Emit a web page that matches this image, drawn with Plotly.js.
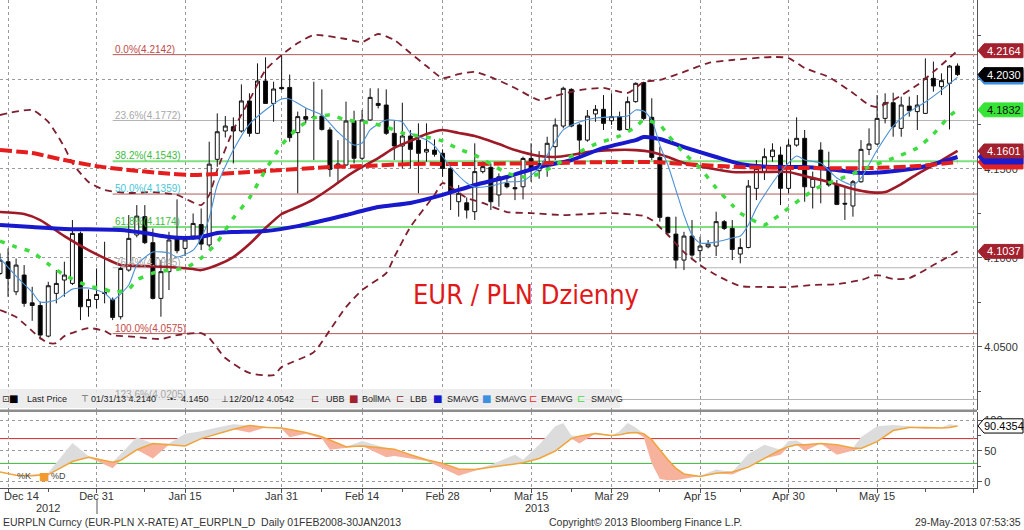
<!DOCTYPE html>
<html><head><meta charset="utf-8">
<script src="https://cdn.plot.ly/plotly-3.0.1.min.js"></script>
<style>html,body{margin:0;padding:0;background:#fff;}#chart{width:1024px;height:530px;}</style>
</head><body><div id="chart"></div>
<script>
// ---------- price data (daily candles) ----------
const dates = ['2012-12-13','2012-12-14','2012-12-17','2012-12-18','2012-12-19','2012-12-20','2012-12-21','2012-12-24','2012-12-25','2012-12-26','2012-12-27','2012-12-28','2012-12-31',
'2013-01-01','2013-01-02','2013-01-03','2013-01-04','2013-01-07','2013-01-08','2013-01-09','2013-01-10','2013-01-11','2013-01-14','2013-01-15','2013-01-16','2013-01-17','2013-01-18',
'2013-01-21','2013-01-22','2013-01-23','2013-01-24','2013-01-25','2013-01-28','2013-01-29','2013-01-30','2013-01-31','2013-02-01','2013-02-04','2013-02-05','2013-02-06','2013-02-07','2013-02-08',
'2013-02-11','2013-02-12','2013-02-13','2013-02-14','2013-02-15','2013-02-18','2013-02-19','2013-02-20','2013-02-21','2013-02-22','2013-02-25','2013-02-26','2013-02-27','2013-02-28','2013-03-01',
'2013-03-04','2013-03-05','2013-03-06','2013-03-07','2013-03-08','2013-03-11','2013-03-12','2013-03-13','2013-03-14','2013-03-15','2013-03-18','2013-03-19','2013-03-20','2013-03-21','2013-03-22',
'2013-03-25','2013-03-26','2013-03-27','2013-03-28','2013-03-29','2013-04-01','2013-04-02','2013-04-03','2013-04-04','2013-04-05','2013-04-08','2013-04-09','2013-04-10','2013-04-11','2013-04-12',
'2013-04-15','2013-04-16','2013-04-17','2013-04-18','2013-04-19','2013-04-22','2013-04-23','2013-04-24','2013-04-25','2013-04-26','2013-04-29','2013-04-30','2013-05-01','2013-05-02','2013-05-03',
'2013-05-06','2013-05-07','2013-05-08','2013-05-09','2013-05-10','2013-05-13','2013-05-14','2013-05-15','2013-05-16','2013-05-17','2013-05-20','2013-05-21','2013-05-22','2013-05-23','2013-05-24',
'2013-05-27','2013-05-28','2013-05-29'];
const open = [4.0913,4.0979,4.0810,4.0904,4.0748,4.0733,4.0561,4.0801,4.0876,4.0857,4.1138,4.0726,4.0767,
4.0806,4.0767,4.0670,4.0932,4.1129,4.1232,4.1086,4.0773,4.0923,4.1110,4.1054,4.1123,4.1188,4.1073,
4.1554,4.1713,4.1737,4.1713,4.1882,4.1700,4.1994,4.1868,4.1958,4.1958,4.1704,4.1794,4.1792,4.1797,4.1719,
4.1513,4.1522,4.1769,4.1560,4.1775,4.1868,4.1859,4.1700,4.1629,4.1685,4.1662,4.1595,4.1606,4.1588,4.1503,
4.1316,4.1310,4.1260,4.1485,4.1509,4.1354,4.1419,4.1395,4.1400,4.1559,4.1490,4.1522,4.1625,4.1741,4.1947,
4.1747,4.1662,4.1809,4.1835,4.1771,4.1794,4.1722,4.1878,4.1985,4.1790,4.1565,4.1228,4.1134,4.0988,4.1123,
4.1041,4.1063,4.1067,4.1204,4.1166,4.1022,4.1059,4.1391,4.1485,4.1569,4.1578,4.1391,4.1634,4.1672,4.1397,
4.1606,4.1503,4.1410,4.1307,4.1292,4.1428,4.1610,4.1640,4.1784,4.1872,4.1728,4.1853,4.1822,4.1812,4.2009,
4.1962,4.1981,4.2078];
const high = [4.1026,4.1054,4.0997,4.0960,4.0838,4.0754,4.0866,4.0932,4.0979,4.1213,4.1148,4.0823,4.0941,
4.1091,4.0778,4.0951,4.1241,4.1297,4.1297,4.1166,4.0988,4.1147,4.1329,4.1123,4.1250,4.1278,4.1653,
4.1812,4.1797,4.1790,4.1975,4.1925,4.2093,4.2127,4.1990,4.2140,4.2030,4.1822,4.1840,4.1990,4.1947,4.1734,
4.1662,4.1878,4.1827,4.1831,4.1953,4.1953,4.1947,4.1771,4.1872,4.1719,4.1756,4.1756,4.1666,4.1610,4.1513,
4.1410,4.1340,4.1644,4.1541,4.1531,4.1475,4.1456,4.1456,4.1569,4.1644,4.1600,4.1681,4.1784,4.1962,4.1953,
4.1756,4.1831,4.1859,4.1915,4.1925,4.1822,4.1906,4.1986,4.1990,4.1897,4.1625,4.1232,4.1232,4.1147,4.1213,
4.1119,4.1101,4.1260,4.1213,4.1213,4.1110,4.1438,4.1550,4.1616,4.1644,4.1625,4.1666,4.1790,4.1719,4.1485,
4.1650,4.1597,4.1438,4.1400,4.1438,4.1662,4.1728,4.1915,4.1925,4.1928,4.1906,4.1906,4.1915,4.2121,4.2103,
4.2037,4.2084,4.2093];
const low = [4.0904,4.0782,4.0791,4.0726,4.0647,4.0542,4.0554,4.0745,4.0782,4.0848,4.0651,4.0670,4.0717,
4.0745,4.0651,4.0655,4.0923,4.1116,4.1078,4.0767,4.0670,4.0820,4.1026,4.1011,4.1101,4.1044,4.1059,
4.1512,4.1677,4.1531,4.1704,4.1681,4.1696,4.1865,4.1765,4.1943,4.1653,4.1363,4.1756,4.1550,4.1715,4.1456,
4.1415,4.1516,4.1531,4.1550,4.1771,4.1840,4.1691,4.1550,4.1503,4.1503,4.1363,4.1541,4.1569,4.1456,4.1269,
4.1232,4.1222,4.1213,4.1475,4.1269,4.1288,4.1391,4.1325,4.1329,4.1428,4.1445,4.1456,4.1550,4.1728,4.1734,
4.1569,4.1653,4.1765,4.1719,4.1747,4.1715,4.1719,4.1872,4.1775,4.1550,4.1204,4.1134,4.0941,4.0932,4.1007,
4.0979,4.1054,4.1011,4.1157,4.0988,4.0970,4.1054,4.1325,4.1438,4.1541,4.1297,4.1363,4.1625,4.1316,4.1278,
4.1307,4.1400,4.1297,4.1213,4.1232,4.1423,4.1578,4.1634,4.1756,4.1681,4.1681,4.1794,4.1719,4.1809,4.1934,
4.1915,4.1722,4.2022];
const close = [4.0988,4.0885,4.0960,4.0745,4.0733,4.0567,4.0844,4.0857,4.0904,4.1138,4.0726,4.0767,4.0795,
4.0801,4.0666,4.0941,4.1110,4.1235,4.1086,4.0773,4.0923,4.1101,4.1041,4.1101,4.1194,4.1078,4.1527,
4.1709,4.1741,4.1713,4.1882,4.1700,4.1994,4.1868,4.1949,4.1951,4.1676,4.1794,4.1779,4.1789,4.1722,4.1498,
4.1528,4.1769,4.1560,4.1775,4.1902,4.1857,4.1700,4.1629,4.1685,4.1610,4.1588,4.1610,4.1582,4.1503,4.1372,
4.1363,4.1269,4.1485,4.1513,4.1316,4.1456,4.1400,4.1389,4.1559,4.1494,4.1530,4.1644,4.1747,4.1953,4.1741,
4.1662,4.1797,4.1835,4.1756,4.1794,4.1719,4.1878,4.1981,4.1784,4.1565,4.1228,4.1142,4.0988,4.1123,4.1016,
4.1067,4.1078,4.1204,4.1166,4.1048,4.1059,4.1404,4.1503,4.1569,4.1606,4.1391,4.1634,4.1672,4.1400,4.1447,
4.1503,4.1410,4.1301,4.1303,4.1428,4.1610,4.1640,4.1784,4.1872,4.1737,4.1859,4.1827,4.1859,4.2009,4.1966,
4.1996,4.2078,4.2030];

// ---------- indicators ----------
const ubbDates = ['2012-12-13','2012-12-19','2012-12-21','2012-12-25','2012-12-26','2012-12-28','2013-01-01','2013-01-04','2013-01-09','2013-01-14','2013-01-17','2013-01-18','2013-01-21','2013-01-23','2013-01-25','2013-01-29','2013-01-31','2013-02-04','2013-02-06','2013-02-12','2013-02-14','2013-02-18','2013-02-20','2013-02-22','2013-02-26','2013-02-28','2013-03-04','2013-03-06','2013-03-08','2013-03-13','2013-03-18','2013-03-20','2013-03-25','2013-03-28','2013-04-02','2013-04-04','2013-04-08','2013-04-11','2013-04-16','2013-04-19','2013-04-26','2013-04-30','2013-05-02','2013-05-07','2013-05-10','2013-05-14','2013-05-15','2013-05-17','2013-05-22','2013-05-24','2013-05-29'];
const ubbValues = [4.1803,4.1831,4.1764,4.1623,4.1533,4.1427,4.1382,4.1365,4.1370,4.1354,4.1297,4.1354,4.1494,4.1719,4.1887,4.2056,4.2140,4.2207,4.2252,4.2230,4.2213,4.2258,4.2224,4.2151,4.2078,4.2011,4.2033,4.2045,4.2016,4.1955,4.1887,4.1910,4.1943,4.1955,4.1927,4.1988,4.2000,4.2045,4.2095,4.2112,4.2129,4.2123,4.2067,4.2016,4.1927,4.1859,4.1848,4.1887,4.1971,4.2045,4.2164];

const lbbDates = ['2012-12-13','2012-12-17','2012-12-20','2012-12-21','2012-12-24','2012-12-25','2012-12-28','2013-01-01','2013-01-02','2013-01-07','2013-01-10','2013-01-14','2013-01-17','2013-01-18','2013-01-22','2013-01-25','2013-01-30','2013-01-31','2013-02-06','2013-02-08','2013-02-12','2013-02-14','2013-02-19','2013-02-20','2013-02-22','2013-02-27','2013-02-28','2013-03-05','2013-03-07','2013-03-12','2013-03-15','2013-03-21','2013-03-26','2013-03-29','2013-04-04','2013-04-05','2013-04-09','2013-04-11','2013-04-15','2013-04-17','2013-04-22','2013-04-25','2013-04-30','2013-05-03','2013-05-08','2013-05-13','2013-05-15','2013-05-17','2013-05-21','2013-05-24','2013-05-29'];
const lbbValues = [4.0707,4.0668,4.0550,4.0522,4.0522,4.0561,4.0606,4.0589,4.0567,4.0556,4.0545,4.0567,4.0578,4.0550,4.0438,4.0354,4.0342,4.0387,4.0471,4.0595,4.0724,4.0820,4.0915,4.1005,4.1174,4.1354,4.1421,4.1337,4.1309,4.1258,4.1252,4.1241,4.1247,4.1252,4.1236,4.1213,4.1129,4.1033,4.0960,4.0904,4.0842,4.0837,4.0837,4.0848,4.0853,4.0876,4.0904,4.0882,4.0887,4.0960,4.1037];

const bollDates = ['2012-12-13','2012-12-18','2012-12-20','2012-12-25','2012-12-28','2013-01-01','2013-01-03','2013-01-08','2013-01-11','2013-01-16','2013-01-17','2013-01-21','2013-01-23','2013-01-25','2013-01-29','2013-01-31','2013-02-04','2013-02-06','2013-02-08','2013-02-12','2013-02-14','2013-02-18','2013-02-20','2013-02-22','2013-02-26','2013-02-28','2013-03-04','2013-03-06','2013-03-11','2013-03-13','2013-03-18','2013-03-20','2013-03-22','2013-03-26','2013-03-29','2013-04-03','2013-04-05','2013-04-09','2013-04-11','2013-04-16','2013-04-19','2013-04-25','2013-04-30','2013-05-02','2013-05-07','2013-05-10','2013-05-14','2013-05-16','2013-05-20','2013-05-22','2013-05-24','2013-05-29'];
const bollValues = [4.1258,4.1247,4.1213,4.1123,4.1044,4.0999,4.0960,4.0955,4.0949,4.0938,4.0932,4.0960,4.1005,4.1078,4.1168,4.1247,4.1286,4.1331,4.1390,4.1455,4.1511,4.1561,4.1618,4.1657,4.1696,4.1719,4.1702,4.1685,4.1640,4.1606,4.1573,4.1567,4.1578,4.1595,4.1606,4.1606,4.1595,4.1567,4.1533,4.1505,4.1483,4.1483,4.1483,4.1460,4.1427,4.1387,4.1370,4.1370,4.1415,4.1471,4.1522,4.1601];

const smaLongDates = ['2012-12-13','2012-12-19','2012-12-25','2013-01-03','2013-01-08','2013-01-11','2013-01-15','2013-01-17','2013-01-21','2013-01-23','2013-01-29','2013-02-04','2013-02-08','2013-02-12','2013-02-18','2013-02-22','2013-02-28','2013-03-06','2013-03-12','2013-03-18','2013-03-22','2013-03-28','2013-04-03','2013-04-04','2013-04-08','2013-04-11','2013-04-17','2013-04-22','2013-04-26','2013-05-02','2013-05-08','2013-05-13','2013-05-16','2013-05-22','2013-05-27','2013-05-29'];
const smaLongValues = [4.1185,4.1174,4.1163,4.1157,4.1140,4.1118,4.1112,4.1118,4.1140,4.1146,4.1151,4.1179,4.1219,4.1241,4.1286,4.1309,4.1354,4.1410,4.1455,4.1511,4.1550,4.1618,4.1662,4.1679,4.1668,4.1623,4.1567,4.1528,4.1511,4.1511,4.1494,4.1477,4.1483,4.1505,4.1539,4.1567];

const emaDates = ['2012-12-13','2012-12-19','2012-12-25','2012-12-31','2013-01-04','2013-01-10','2013-01-16','2013-01-21','2013-01-25','2013-01-31','2013-02-08','2013-02-14','2013-02-22','2013-03-06','2013-03-19','2013-03-29','2013-04-05','2013-04-15','2013-04-22','2013-05-02','2013-05-14','2013-05-22','2013-05-29'];
const emaValues = [4.1606,4.1589,4.1550,4.1516,4.1494,4.1477,4.1466,4.1472,4.1483,4.1494,4.1511,4.1516,4.1528,4.1528,4.1533,4.1539,4.1539,4.1522,4.1511,4.1505,4.1505,4.1516,4.1539];

const smaMidDates = ['2012-12-13','2012-12-17','2012-12-19','2012-12-21','2012-12-25','2012-12-28','2013-01-01','2013-01-02','2013-01-04','2013-01-07','2013-01-09','2013-01-11','2013-01-15','2013-01-17','2013-01-21','2013-01-23','2013-01-25','2013-01-29','2013-01-31','2013-02-04','2013-02-06','2013-02-08','2013-02-12','2013-02-15','2013-02-19','2013-02-21','2013-02-26','2013-02-28','2013-03-04','2013-03-06','2013-03-08','2013-03-12','2013-03-14','2013-03-18','2013-03-20','2013-03-25','2013-03-27','2013-04-01','2013-04-03','2013-04-04','2013-04-08','2013-04-09','2013-04-11','2013-04-15','2013-04-17','2013-04-19','2013-04-22','2013-04-24','2013-04-25','2013-04-26','2013-04-30','2013-05-02','2013-05-06','2013-05-09','2013-05-14','2013-05-17','2013-05-22','2013-05-24','2013-05-28','2013-05-29'];
const smaMidValues = [4.1095,4.1061,4.1033,4.0966,4.0904,4.0842,4.0825,4.0808,4.0825,4.0876,4.0915,4.0932,4.0943,4.0999,4.1089,4.1224,4.1337,4.1494,4.1634,4.1730,4.1786,4.1803,4.1775,4.1758,4.1736,4.1702,4.1679,4.1657,4.1612,4.1578,4.1528,4.1477,4.1455,4.1472,4.1522,4.1595,4.1640,4.1685,4.1736,4.1775,4.1747,4.1691,4.1589,4.1505,4.1393,4.1297,4.1252,4.1202,4.1185,4.1213,4.1280,4.1348,4.1404,4.1455,4.1511,4.1561,4.1618,4.1696,4.1797,4.1832];

const smaShortDates = ['2012-12-13','2012-12-17','2012-12-19','2012-12-20','2012-12-24','2012-12-26','2012-12-28','2013-01-01','2013-01-02','2013-01-04','2013-01-07','2013-01-09','2013-01-11','2013-01-14','2013-01-16','2013-01-17','2013-01-18','2013-01-21','2013-01-23','2013-01-25','2013-01-29','2013-01-31','2013-02-01','2013-02-05','2013-02-07','2013-02-11','2013-02-13','2013-02-14','2013-02-15','2013-02-19','2013-02-21','2013-02-22','2013-02-26','2013-02-27','2013-03-01','2013-03-05','2013-03-06','2013-03-08','2013-03-12','2013-03-14','2013-03-18','2013-03-19','2013-03-21','2013-03-25','2013-03-27','2013-03-29','2013-04-02','2013-04-03','2013-04-04','2013-04-05','2013-04-08','2013-04-09','2013-04-10','2013-04-11','2013-04-12','2013-04-15','2013-04-17','2013-04-19','2013-04-22','2013-04-23','2013-04-24','2013-04-25','2013-04-29','2013-05-01','2013-05-02','2013-05-06','2013-05-08','2013-05-10','2013-05-13','2013-05-15','2013-05-17','2013-05-21','2013-05-23','2013-05-27','2013-05-29'];
const smaShortValues = [4.0999,4.0898,4.0808,4.0752,4.0764,4.0825,4.0831,4.0803,4.0764,4.0848,4.0960,4.1033,4.1028,4.1005,4.1044,4.1112,4.1224,4.1410,4.1606,4.1752,4.1831,4.1893,4.1893,4.1842,4.1803,4.1707,4.1634,4.1646,4.1719,4.1775,4.1764,4.1702,4.1663,4.1629,4.1511,4.1421,4.1398,4.1404,4.1427,4.1432,4.1505,4.1578,4.1719,4.1764,4.1786,4.1792,4.1797,4.1831,4.1825,4.1775,4.1634,4.1522,4.1382,4.1241,4.1129,4.1084,4.1089,4.1112,4.1123,4.1185,4.1280,4.1354,4.1483,4.1573,4.1550,4.1533,4.1449,4.1410,4.1449,4.1606,4.1741,4.1820,4.1876,4.1943,4.2016];

// ---------- stochastic ----------
const stochDates = ['2012-12-13','2012-12-17','2012-12-19','2012-12-21','2012-12-26','2012-12-28','2013-01-02','2013-01-03','2013-01-07','2013-01-09','2013-01-11','2013-01-15','2013-01-17','2013-01-21','2013-01-23','2013-01-25','2013-01-29','2013-01-31','2013-02-01','2013-02-05','2013-02-07','2013-02-08','2013-02-12','2013-02-14','2013-02-19','2013-02-20','2013-02-22','2013-02-26','2013-02-28','2013-03-04','2013-03-06','2013-03-08','2013-03-13','2013-03-14','2013-03-18','2013-03-20','2013-03-21','2013-03-22','2013-03-25','2013-03-27','2013-03-29','2013-04-01','2013-04-02','2013-04-03','2013-04-04','2013-04-05','2013-04-08','2013-04-09','2013-04-10','2013-04-11','2013-04-15','2013-04-17','2013-04-19','2013-04-23','2013-04-25','2013-04-29','2013-04-30','2013-05-01','2013-05-02','2013-05-06','2013-05-08','2013-05-10','2013-05-13','2013-05-15','2013-05-17','2013-05-21','2013-05-23','2013-05-27','2013-05-28','2013-05-29'];
const stochD = [16,11,10,12,33,40,32,35,52,62,60,58,70,78,85,91,88,87,85,80,73,68,57,58,55,53,44,36,30,21,20,24,29,31,38,50,60,70,74,78,75,76,79,80,78,68,52,36,22,13,9,14,16,24,38,52,57,60,60,62,60,55,54,65,83,88,88,87,88,90.4];
const stochK = [16,11,12,15,63,42,22,45,72,38,62,78,82,88,93,80,90,86,72,78,70,52,55,66,40,42,38,34,22,10,18,28,44,36,60,90,95,75,62,80,74,82,95,88,72,30,5,3,3,5,10,20,12,45,60,44,66,67,50,63,44,50,72,90,92,90,86,88,93,91];

// ---------- Fibonacci levels ----------
const fibLevels = [4.2142,4.1772,4.1543,4.1359,4.1174,4.0945,4.0575,4.0205];
const fibLabels = ['0.0%(4.2142)','23.6%(4.1772)','38.2%(4.1543)','50.0%(4.1359)','61.8%(4.1174)','76.4%(4.0945)','100.0%(4.0575)','123.6%(4.0205)'];
const fibLineColors = ['#b25a5a','#b4b4b4','#7ee07e','#b25a5a','#7ee07e','#b4b4b4','#b25a5a','#b4b4b4'];
const fibLineWidths = [1,1,2,1,2,1,1,1];
const fibTextColors = ['#c24a4a','#a8a8a8','#3cbc3c','#45c6d6','#3cbc3c','#a8a8a8','#c24a4a','#a8a8a8'];
const fibStart = '2013-01-02';

// ---------- axis ticks ----------
const tickDates = ['2012-12-14','2012-12-31','2013-01-15','2013-01-31','2013-02-14','2013-02-28','2013-03-15','2013-03-29','2013-04-15','2013-04-30','2013-05-15','2013-05-31'];
const tickLabels = ['','Dec 31','Jan 15','Jan 31','Feb 14','Feb 28','Mar 15','Mar 29','Apr 15','Apr 30','May 15',''];
const minorDates = ['2012-12-21','2013-01-08','2013-01-23','2013-02-07','2013-02-21','2013-03-08','2013-03-22','2013-04-08','2013-04-22','2013-05-08','2013-05-23'];
const xEnd = '2013-05-31 10:00';

// right-side value badges: [value, fill, text colour, text]
const priceBadges = [
  [4.2164,'#a3202e','#ffffff','4.2164'],
  [4.2016,'#3d8fe0','#ffffff',''],
  [4.2030,'#000000','#ffffff','4.2030'],
  [4.1832,'#36e436','#111111','4.1832'],
  [4.1539,'#e52222','#ffffff',''],
  [4.1567,'#1c1ccc','#ffffff',''],
  [4.1601,'#a3202e','#ffffff','4.1601'],
  [4.1037,'#a3202e','#ffffff','4.1037']
];
const stochBadge = [90.4354,'#ffffff','#000000','90.4354'];

// ---------- build ----------
const FONT = 'Liberation Sans, Arial, sans-serif';
const traces = [];
traces.push({
  type:'candlestick', x:dates, open:open, high:high, low:low, close:close,
  xaxis:'x', yaxis:'y', whiskerwidth:0, hoverinfo:'skip',
  increasing:{line:{color:'#111',width:1}, fillcolor:'#ffffff'},
  decreasing:{line:{color:'#111',width:1}, fillcolor:'#000000'}
});
function line(x,y,color,width,dash,shape){
  return {type:'scatter',mode:'lines',x:x,y:y,xaxis:'x',yaxis:'y',hoverinfo:'skip',
    line:{color:color,width:width,dash:dash||'solid',shape:shape||'spline',smoothing:0.6}};
}
traces.push(line(ubbDates,ubbValues,'#7d1f2e',1.8,'7px,5px'));
traces.push(line(lbbDates,lbbValues,'#7d1f2e',1.8,'7px,5px'));
traces.push(line(bollDates,bollValues,'#9e1a27',2.6));
traces.push(line(smaLongDates,smaLongValues,'#1818cc',4));
traces.push(line(emaDates,emaValues,'#e41e1e',4,'12px,4px'));
traces.push(line(smaShortDates,smaShortValues,'#4d92d6',1.1));
traces.push(line(smaMidDates,smaMidValues,'#3fdc3f',3.5,'5px,8px'));

// stochastic fills
const upper = stochK.map((k,i)=>Math.max(k,stochD[i]));
const lower = stochK.map((k,i)=>Math.min(k,stochD[i]));
function s2(y,opts){ return Object.assign({type:'scatter',mode:'lines',x:stochDates,y:y,xaxis:'x',yaxis:'y2',hoverinfo:'skip',line:{width:0,color:'rgba(0,0,0,0)'}},opts||{}); }
traces.push(s2(stochD));
traces.push(s2(upper,{fill:'tonexty',fillcolor:'#dcdcdc'}));
traces.push(s2(stochD));
traces.push(s2(lower,{fill:'tonexty',fillcolor:'#f7b29e'}));
traces.push(s2(stochD,{line:{width:1.5,color:'#f0a43a'}}));

const shapes = [];
const annotations = [];
// fib lines and labels
fibLevels.forEach((lv,i)=>{
  shapes.push({type:'line',xref:'x',yref:'y',x0:fibStart,x1:xEnd,y0:lv,y1:lv,layer:'below',
    line:{color:fibLineColors[i],width:fibLineWidths[i]}});
  annotations.push({xref:'x',yref:'y',x:fibStart,y:lv,text:fibLabels[i],showarrow:false,
    xanchor:'left',yanchor:'bottom',xshift:0,yshift:-2,font:{family:FONT,size:10,color:fibTextColors[i]}});
});
// stochastic 70 / 30 lines
shapes.push({type:'line',xref:'paper',yref:'y2',x0:0,x1:1,y0:70,y1:70,layer:'below',line:{color:'#d62a2a',width:1}});
shapes.push({type:'line',xref:'paper',yref:'y2',x0:0,x1:1,y0:30,y1:30,layer:'below',line:{color:'#3cb43c',width:1}});
// panel separator
shapes.push({type:'rect',xref:'paper',yref:'paper',x0:0,x1:1,y0:(488-412)/488,y1:(488-409.5)/488,fillcolor:'#8c8c8c',line:{width:0},layer:'above'});
// legend bar
shapes.push({type:'rect',xref:'paper',yref:'paper',x0:0,x1:620/977,y0:(488-408)/488,y1:(488-389)/488,fillcolor:'rgba(234,234,234,0.88)',line:{width:0},layer:'above'});
// year divider tick
shapes.push({type:'line',xref:'paper',yref:'paper',x0:97/977,x1:97/977,y0:(488-500)/488,y1:(488-514)/488,line:{color:'#555',width:1}});

// badges
const PW = 977;
function badge(val,fill,tcol,text,yref,hh,border){
  const a = 978/PW, b = 984/PW, c = 1023/PW;
  shapes.push({type:'path',xref:'paper',yref:yref,layer:'above',
    path:`M ${a},${val} L ${b},${val+hh} L ${c},${val+hh} L ${c},${val-hh} L ${b},${val-hh} Z`,
    fillcolor:fill,line:{color:border||fill,width:1}});
  if(text) annotations.push({xref:'paper',yref:yref,x:1003.5/PW,y:val,text:text,showarrow:false,
    xanchor:'center',yanchor:'middle',font:{family:FONT,size:11,color:tcol}});
}
priceBadges.forEach(b=>badge(b[0],b[1],b[2],b[3],'y',0.0039));
badge(stochBadge[0],stochBadge[1],stochBadge[2],stochBadge[3],'y2',11.5,'#000');

// legend bar items
const legY = (488-398.5)/488;
function leg(px,text,color,size,fam){
  annotations.push({xref:'paper',yref:'paper',x:px/PW,y:legY,text:text,showarrow:false,xanchor:'left',yanchor:'middle',
    font:{family:fam||FONT,size:size||9,color:color||'#222'}});
}
leg(0,'⊡','#333',9,'DejaVu Sans');
leg(7,'■','#000',10,'DejaVu Sans');
leg(25,'Last Price');
leg(79,'⊤','#333',9,'DejaVu Sans');
leg(89,'01/31/13 4.2140');
leg(165,'-•-','#333',9);
leg(179,'4.1450');
leg(219,'⊥','#333',9,'DejaVu Sans');
leg(227,'12/20/12 4.0542');
leg(309,'⊏','#7d1f2e',10,'DejaVu Sans');
leg(324,'UBB');
leg(347,'■','#a3202e',10,'DejaVu Sans');
leg(360,'BollMA');
leg(394,'⊏','#7d1f2e',10,'DejaVu Sans');
leg(408,'LBB');
leg(431,'■','#1818cc',10,'DejaVu Sans');
leg(445,'SMAVG');
leg(480,'■','#3d8fe0',10,'DejaVu Sans');
leg(493,'SMAVG');
leg(527,'⊏','#e41e1e',10,'DejaVu Sans');
leg(539,'EMAVG');
leg(575,'⊏','#3fdc3f',10,'DejaVu Sans');
leg(589,'SMAVG');

// stochastic legend
const sY = (488-476)/488;
annotations.push({xref:'paper',yref:'paper',x:15/PW,y:sY,text:'%K',showarrow:false,xanchor:'left',yanchor:'middle',font:{family:FONT,size:9,color:'#444'}});
annotations.push({xref:'paper',yref:'paper',x:37/PW,y:sY,text:'■',showarrow:false,xanchor:'left',yanchor:'middle',font:{family:'DejaVu Sans',size:11,color:'#f29a2e'}});
annotations.push({xref:'paper',yref:'paper',x:49/PW,y:sY,text:'%D',showarrow:false,xanchor:'left',yanchor:'middle',font:{family:FONT,size:9,color:'#444'}});

// title text in chart
annotations.push({xref:'paper',yref:'paper',x:526/PW,y:(488-294)/488,text:'EUR / PLN Dzienny',showarrow:false,xanchor:'center',yanchor:'middle',
  font:{family:'DejaVu Sans Condensed, DejaVu Sans, sans-serif',size:27,color:'#e01818'}});

// bottom texts
annotations.push({xref:'paper',yref:'paper',x:21/PW,y:(488-496)/488,text:'Dec 14',showarrow:false,xanchor:'center',yanchor:'middle',font:{family:FONT,size:11,color:'#333'}});
annotations.push({xref:'paper',yref:'paper',x:48/PW,y:(488-508)/488,text:'2012',showarrow:false,xanchor:'center',yanchor:'middle',font:{family:FONT,size:11,color:'#333'}});
annotations.push({xref:'paper',yref:'paper',x:537/PW,y:(488-508)/488,text:'2013',showarrow:false,xanchor:'center',yanchor:'middle',font:{family:FONT,size:11,color:'#333'}});
annotations.push({xref:'paper',yref:'paper',x:1/PW,y:(488-522)/488,text:'EURPLN Curncy (EUR-PLN X-RATE) AT_EURPLN_D\u00a0\u00a0Daily 01FEB2008-30JAN2013',showarrow:false,xanchor:'left',yanchor:'middle',font:{family:FONT,size:10.5,color:'#333'}});
annotations.push({xref:'paper',yref:'paper',x:547/PW,y:(488-522)/488,text:'Copyright\u00a9 2013 Bloomberg Finance L.P.',showarrow:false,xanchor:'left',yanchor:'middle',font:{family:FONT,size:10.5,color:'#333'}});
annotations.push({xref:'paper',yref:'paper',x:1023/PW,y:(488-522)/488,text:'29-May-2013 07:53:35',showarrow:false,xanchor:'right',yanchor:'middle',font:{family:FONT,size:10.5,color:'#333'}});

const layout = {
  width:1024, height:530, margin:{l:0,r:47,t:0,b:42},
  paper_bgcolor:'#ffffff', plot_bgcolor:'#ffffff', showlegend:false,
  font:{family:FONT,size:11,color:'#333'},
  xaxis:{type:'date',anchor:'y2',range:['2012-12-13',xEnd],rangebreaks:[{bounds:['sat','mon']}],
    rangeslider:{visible:false},fixedrange:true,
    tickmode:'array',tickvals:tickDates,ticktext:tickLabels,ticklabelstandoff:-6,
    showgrid:true,gridcolor:'#9a9a9a',griddash:'dot',gridwidth:1,
    ticks:'outside',ticklen:4,tickcolor:'#555',showline:true,linecolor:'#555',linewidth:1,zeroline:false,
    minor:{tickmode:'array',tickvals:minorDates,ticks:'outside',ticklen:3,tickcolor:'#555',showgrid:false},
    tickfont:{family:FONT,size:11,color:'#333'}},
  yaxis:{domain:[(488-410)/488,1],range:[4.0146,4.2449],side:'right',fixedrange:true,
    tickmode:'array',tickvals:[4.05,4.10,4.15,4.20],ticktext:['4.0500','4.1000','4.1500','4.2000'],
    showgrid:true,gridcolor:'#9a9a9a',griddash:'dot',gridwidth:1,zeroline:false,
    ticks:'outside',ticklen:4,tickcolor:'#555',showline:true,linecolor:'#555',linewidth:1,
    minor:{tickmode:'array',tickvals:[4.025,4.075,4.125,4.175,4.225],ticks:'outside',ticklen:3,tickcolor:'#555',showgrid:false},
    tickfont:{family:FONT,size:11,color:'#333'}},
  yaxis2:{domain:[0,(488-412)/488],range:[-9.7,112.9],side:'right',fixedrange:true,
    tickmode:'array',tickvals:[0,50,100],ticktext:['0','50','100'],
    showgrid:true,gridcolor:'#9a9a9a',griddash:'dot',gridwidth:1,zeroline:false,
    ticks:'outside',ticklen:4,tickcolor:'#555',showline:true,linecolor:'#555',linewidth:1,
    minor:{tickmode:'array',tickvals:[25,75],ticks:'outside',ticklen:3,tickcolor:'#555',showgrid:false},
    tickfont:{family:FONT,size:11,color:'#333'}},
  shapes:shapes, annotations:annotations
};
Plotly.newPlot('chart',traces,layout,{displayModeBar:false,staticPlot:true});
</script></body></html>
